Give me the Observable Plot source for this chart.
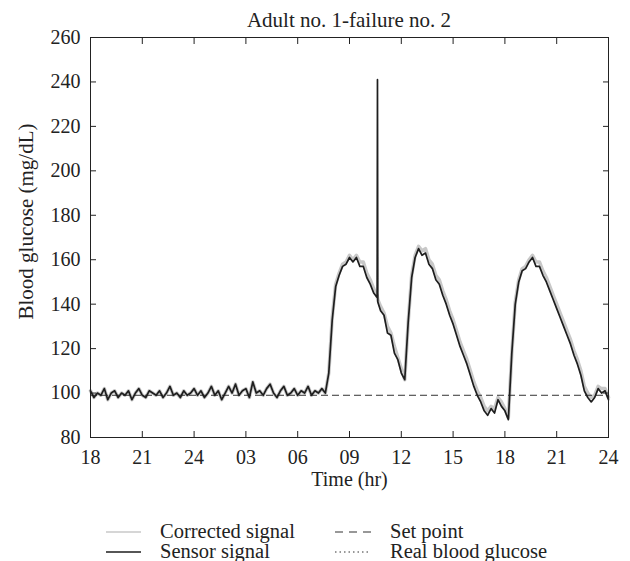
<!DOCTYPE html>
<html><head><meta charset="utf-8">
<script src="https://cdn.jsdelivr.net/npm/d3@7"></script>
<script src="https://cdn.jsdelivr.net/npm/@observablehq/plot@0.6"></script>
<style>
body{margin:0;background:#fff;}
#wrap{position:relative;width:630px;height:561px;font-family:"Liberation Serif",serif;color:#222;overflow:hidden;}
#title{position:absolute;left:90px;width:518px;top:8px;text-align:center;font-size:21px;line-height:24px;}
#chart{position:absolute;left:0;top:0;}
#legend{position:absolute;left:0;top:500px;}
</style></head><body>
<div id="wrap"><div id="chart"></div><div id="title">Adult no. 1-failure no. 2</div><div id="legend"></div></div>
<script>
// Time in hours since 18:00 of the first day
const timeHr = [0,0.2,0.4,0.6,0.8,1,1.2,1.4,1.6,1.8,2,2.2,2.4,2.6,2.8,3,3.2,3.4,3.6,3.8,4,4.2,4.4,4.6,4.8,5,5.2,5.4,5.6,5.8,6,6.2,6.4,6.6,6.8,7,7.2,7.4,7.6,7.8,8,8.2,8.4,8.6,8.8,9,9.2,9.4,9.6,9.8,10,10.2,10.4,10.6,10.8,11,11.2,11.4,11.6,11.8,12,12.2,12.4,12.6,12.8,13,13.2,13.4,13.6,13.8,14,14.2,14.4,14.6,14.8,15,15.2,15.4,15.6,15.8,16,16.2,16.4,16.6,16.62,16.64,16.8,17,17.2,17.4,17.6,17.8,18,18.2,18.4,18.6,18.8,19,19.2,19.4,19.6,19.8,20,20.2,20.4,20.6,20.8,21,21.2,21.4,21.6,21.8,22,22.2,22.4,22.6,22.8,23,23.2,23.4,23.6,23.8,24,24.2,24.4,24.6,24.8,25,25.2,25.4,25.6,25.8,26,26.2,26.4,26.6,26.8,27,27.2,27.4,27.6,27.8,28,28.2,28.4,28.6,28.8,29,29.2,29.4,29.6,29.8,30];

const sensorSignal = [101,98,100,99,102,97,100,101,98,100,
99,101,97,100,102,99,98,101,100,99,
101,98,100,103,99,100,98,101,99,100,
102,99,101,98,100,103,99,101,97,100,
103,100,104,99,101,102,98,105,100,101,
99,102,104,100,98,101,103,99,100,102,
99,101,100,103,99,101,100,102,
100,109,133,148,153,157,158,161,159,161,157,157,152,149,145,143,
241,141,
137,135,127,126,118,115,109,106,132,152,161,165,162,163,158,156,
151,149,144,140,135,131,126,121,117,113,108,103,99,96,92,90,
93,91,97,94,92,88,118,140,150,155,156,159,161,157,157,153,
150,146,142,138,134,130,126,122,117,113,108,101,98,96,98,102,100,101,97];

const correctedSignal = [101,98,100,99,102,97,100,101,98,100,
99,101,97,100,102,99,98,101,100,99,
101,98,100,103,99,100,98,101,99,100,
102,99,101,98,100,103,99,101,97,100,
103,100,104,99,101,102,98,105,100,101,
99,102,104,100,98,101,103,99,100,102,
99,101,100,103,99,101,100,102,
100,109,134,149,154,158,159,162,160,162,159,159,154,151,147,144,
143,142,
139,136,130,127,121,116,111,106,132,153,162,166,164,165,160,158,
153,151,146,142,137,133,128,123,119,115,110,105,101,98,94,92,
94,93,98,96,93,89,118,141,151,156,157,160,162,159,159,155,
152,148,144,140,136,132,128,124,119,115,110,103,100,98,99,103,102,102,98];

const setPoint = 99;

const xTicks = [0,3,6,9,12,15,18,21,24,27,30];
const xTickLabels = ["18","21","24","03","06","09","12","15","18","21","24"];
const yTicks = [80,100,120,140,160,180,200,220,240,260];
const xLabel = "Time (hr)";
const yLabel = "Blood glucose (mg/dL)";

const legendItems = [
  {label:"Corrected signal", kind:"corrected"},
  {label:"Sensor signal", kind:"sensor"},
  {label:"Set point", kind:"setpoint"},
  {label:"Real blood glucose", kind:"real"}
];

const rows = timeHr.map((t,i)=>({t, sensor: sensorSignal[i], corrected: correctedSignal[i]}));

const font = '"Liberation Serif", serif';
const ink = "#222";

const chart = Plot.plot({
  width: 630, height: 561,
  marginTop: 37, marginBottom: 124, marginLeft: 90, marginRight: 22,
  style: {fontFamily: font, fontSize: "20px", color: ink, background: "white", overflow: "visible"},
  x: {domain: [0, 30]},
  y: {domain: [80, 260]},
  marks: [
    Plot.line(rows, {x:"t", y:"corrected", stroke:"#c8c8c8", strokeWidth:3.5}),
    Plot.ruleY([setPoint], {stroke:"#333", strokeWidth:1, strokeDasharray:"7,4"}),
    Plot.line(rows, {x:"t", y:"sensor", stroke:"#1e1e1e", strokeWidth:1.7}),
    Plot.frame({stroke: ink}),
    Plot.axisX(xTicks, {anchor:"bottom", tickSize:6, dy:-6, tickFormat:()=>"", label:null}),
    Plot.axisX(xTicks, {anchor:"top", tickSize:6, dy:6, tickFormat:()=>"", label:null}),
    Plot.axisY(yTicks, {anchor:"left", tickSize:6, dx:6, tickFormat:()=>"", label:null}),
    Plot.axisY(yTicks, {anchor:"right", tickSize:6, dx:-6, tickFormat:()=>"", label:null}),
    Plot.axisX(xTicks, {anchor:"bottom", tickSize:0, tickPadding:12, tickFormat: d => xTickLabels[xTicks.indexOf(d)], label:xLabel, labelAnchor:"center", labelOffset:48, labelArrow:"none", fontSize:20}),
    Plot.axisY(yTicks, {anchor:"left", tickSize:0, tickPadding:10, label:null, fontSize:20}),
    Plot.text([yLabel], {frameAnchor:"left", text:d=>d, rotate:-90, dx:-64, dy:-16, textAnchor:"middle", lineAnchor:"middle", fontSize:21, fill:ink})
  ]
});
document.getElementById("chart").appendChild(chart);

// Legend
const leg = d3.select("#legend").append("svg").attr("width",630).attr("height",61)
  .style("font-family", font).style("font-size","20.5px");
const pos = {
  corrected:{x1:106,x2:141,tx:160,y:38},
  sensor:{x1:106,x2:141,tx:160,y:58},
  setpoint:{x1:335,x2:371,tx:390,y:38},
  real:{x1:335,x2:371,tx:390,y:58}
};
const styleOf = {
  corrected:{stroke:"#c8c8c8", w:1.5, dash:null},
  sensor:{stroke:"#1e1e1e", w:1.6, dash:null},
  setpoint:{stroke:"#333", w:1.2, dash:"8,6"},
  real:{stroke:"#333", w:1, dash:"1.5,3"}
};
legendItems.forEach(it=>{
  const p = pos[it.kind], s = styleOf[it.kind];
  leg.append("line").attr("x1",p.x1).attr("x2",p.x2).attr("y1",p.y-6).attr("y2",p.y-6)
    .attr("stroke",s.stroke).attr("stroke-width",s.w).attr("stroke-dasharray",s.dash);
  leg.append("text").attr("x",p.tx).attr("y",p.y).attr("fill",ink).text(it.label);
});
</script>
</body></html>
